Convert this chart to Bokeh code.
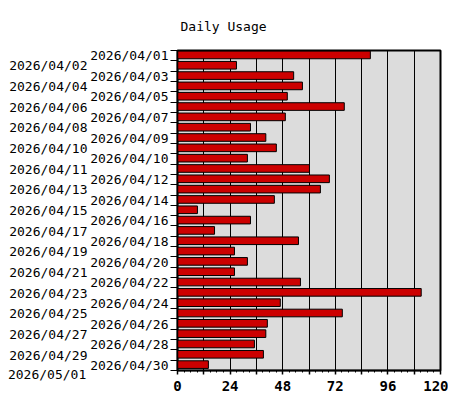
from bokeh.plotting import figure
from bokeh.models import Range1d, LinearAxis, FixedTicker, ColumnDataSource
from bokeh.embed import file_html
from bokeh.resources import INLINE

# ---- data ----
chart_title = "Daily Usage"
day_labels = [
    "2026/04/01", "2026/04/02", "2026/04/03", "2026/04/04", "2026/04/05",
    "2026/04/06", "2026/04/07", "2026/04/08", "2026/04/09", "2026/04/10",
    "2026/04/10", "2026/04/11", "2026/04/12", "2026/04/13", "2026/04/14",
    "2026/04/15", "2026/04/16", "2026/04/17", "2026/04/18", "2026/04/19",
    "2026/04/20", "2026/04/21", "2026/04/22", "2026/04/23", "2026/04/24",
    "2026/04/25", "2026/04/26", "2026/04/27", "2026/04/28", "2026/04/29",
    "2026/04/30", "2026/05/01",
]
usage = [88.0, 26.9, 53.0, 57.0, 50.1, 76.1, 49.2, 33.3, 40.3, 45.1,
         31.9, 60.2, 69.3, 65.2, 44.2, 9.1, 33.3, 16.9, 55.2, 26.0,
         31.9, 26.0, 56.1, 111.2, 46.9, 75.2, 41.0, 40.3, 35.1, 39.2,
         14.1]
x_major = list(range(0, 121, 12))
x_minor = list(range(0, 121, 3))
x_labeled = list(range(0, 121, 24))

# ---- styling ----
FONT = "DejaVu Sans Mono"
BAR_RED = "#CC0000"
BG = "#DCDCDC"

n = len(usage)
idx = list(range(n))
src = ColumnDataSource(dict(y=[i - 0.07 for i in idx], right=usage))

p = figure(
    width=448, height=398,
    x_range=Range1d(0, 120), y_range=Range1d(n - 0.5, -0.5),
    output_backend="svg", toolbar_location=None,
    y_axis_location=None, title=chart_title,
    min_border_left=177, min_border_right=8, min_border_top=49,
    min_border_bottom=28,
    background_fill_color=BG, border_fill_color="white",
    outline_line_color="black", outline_line_width=2,
)

p.title.align = "left"
p.title.offset = 3
p.title.standoff = 33
p.title.text_font = FONT
p.title.text_font_size = "13px"
p.title.text_font_style = "normal"
p.title.text_color = "black"

p.hbar(y="y", right="right", left=0, height=0.74, source=src,
       fill_color=BAR_RED, line_color="black", line_width=1)

# x axis
xa = p.xaxis[0]
xa.ticker = FixedTicker(ticks=x_major, minor_ticks=x_minor)
xa.major_label_overrides = {t: ("" if t not in x_labeled else str(t)) for t in x_major}
xa.major_tick_in = 0
xa.major_tick_out = 4
xa.minor_tick_in = 0
xa.minor_tick_out = 2
xa.axis_line_width = 1.5
xa.major_tick_line_width = 1.5
xa.major_label_standoff = 6
xa.major_label_text_font = FONT
xa.major_label_text_font_size = "14px"
xa.major_label_text_font_style = "bold"
xa.major_label_text_color = "black"

p.xgrid.ticker = FixedTicker(ticks=x_major)
p.xgrid.grid_line_color = "black"
p.xgrid.grid_line_width = 1
p.ygrid.visible = False

# inner y axis: even labels, tick marks at slot boundaries
even = [i for i in idx if i % 2 == 0]
odd = [i for i in idx if i % 2 == 1]
bounds = [i - 0.5 for i in range(n + 1)]

ya = LinearAxis(ticker=FixedTicker(ticks=even, minor_ticks=bounds))
ya.major_label_overrides = {i: day_labels[i] for i in even}
ya.major_tick_in = 0
ya.major_tick_out = 0
ya.major_tick_line_color = None
ya.minor_tick_in = 0
ya.minor_tick_out = 7
ya.minor_tick_line_color = "black"
ya.axis_line_width = 1.5
ya.major_label_standoff = 2
ya.major_label_text_font = FONT
ya.major_label_text_font_size = "13px"
ya.major_label_text_color = "black"
p.add_layout(ya, "left")

# outer y axis: odd labels
yb = LinearAxis(ticker=FixedTicker(ticks=odd, minor_ticks=[]))
yb.major_label_overrides = {i: day_labels[i] for i in odd}
yb.axis_line_color = None
yb.major_tick_line_color = None
yb.minor_tick_line_color = None
yb.major_tick_in = 0
yb.major_tick_out = 0
yb.major_label_standoff = 0
yb.major_label_text_font = FONT
yb.major_label_text_font_size = "13px"
yb.major_label_text_color = "black"

# the last date label sits below the last bar slot, outside the frame:
# drawn as this axis' label, pinned to the bottom end of the axis
yb.axis_label = "\n" + day_labels[-1]
yb.axis_label_orientation = "horizontal"
yb.axis_label_align = "end"
yb.axis_label_standoff = -80
yb.axis_label_text_font = FONT
yb.axis_label_text_font_size = "13px"
yb.axis_label_text_font_style = "normal"
yb.axis_label_text_line_height = 0.5
yb.axis_label_text_color = "black"
p.add_layout(yb, "left")

open("out.html", "w").write(file_html(p, INLINE))
